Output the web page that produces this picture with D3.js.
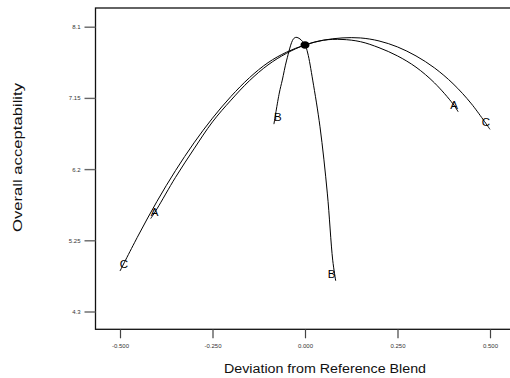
<!DOCTYPE html>
<html>
<head>
<meta charset="utf-8">
<script src="https://cdn.jsdelivr.net/npm/d3@7"></script>
<style>
  html, body { margin: 0; padding: 0; background: #fff; }
  svg { display: block; }
</style>
</head>
<body>
<div id="chart"></div>
<script>
// Trace plot: overall acceptability vs deviation from the reference blend
const xTicks = [-0.5, -0.25, 0, 0.25, 0.5];
const xTickLabels = ["-0.500", "-0.250", "0.000", "0.250", "0.500"];
const yTicks = [4.3, 5.25, 6.2, 7.15, 8.1];
const yTickLabels = ["4.3", "5.25", "6.2", "7.15", "8.1"];

// Component A trace
const devA = [-0.417, -0.40, -0.35, -0.30, -0.25, -0.20, -0.15, -0.10, -0.05, 0, 0.05, 0.10, 0.15, 0.20, 0.25, 0.30, 0.35, 0.40, 0.414];
const accA = [5.54, 5.67, 6.09, 6.47, 6.83, 7.12, 7.38, 7.59, 7.745, 7.856, 7.92, 7.93, 7.90, 7.82, 7.71, 7.56, 7.35, 7.07, 6.965];

// Component B trace
const devB = [-0.084, -0.0695, -0.0614, -0.0495, -0.0316, -0.0243, -0.0135, 0, 0.0073, 0.0208, 0.0405, 0.0603, 0.0749, 0.083];
const accB = [6.80, 7.215, 7.388, 7.655, 7.935, 7.958, 7.936, 7.856, 7.749, 7.388, 6.765, 5.88, 4.985, 4.709];

// Component C trace
const devC = [-0.50, -0.45, -0.40, -0.35, -0.30, -0.25, -0.20, -0.15, -0.10, -0.05, 0, 0.05, 0.10, 0.15, 0.20, 0.25, 0.30, 0.35, 0.40, 0.45, 0.50];
const accC = [4.84, 5.32, 5.77, 6.18, 6.55, 6.88, 7.17, 7.42, 7.62, 7.76, 7.856, 7.92, 7.95, 7.95, 7.91, 7.83, 7.71, 7.55, 7.34, 7.07, 6.73];

// Reference blend point
const refDev = [0];
const refAcc = [7.856];

const traces = [
  { name: "A", dev: devA, acc: accA },
  { name: "B", dev: devB, acc: accB },
  { name: "C", dev: devC, acc: accC }
];

const W = 510, H = 378;
const frame = { left: 95.5, top: 8, right: 514.5, bottom: 329.3 };

const svg = d3.select("#chart").append("svg")
  .attr("width", W).attr("height", H);

const x = d3.scaleLinear().domain([-0.5, 0.5]).range([120, 490]);
const y = d3.scaleLinear().domain([4.3, 8.1]).range([311.5, 26.7]);

// Plot frame
svg.append("rect")
  .attr("x", frame.left).attr("y", frame.top)
  .attr("width", frame.right - frame.left)
  .attr("height", frame.bottom - frame.top)
  .attr("fill", "none").attr("stroke", "#111").attr("stroke-width", 1.3);

// Axes
const xAxis = d3.axisBottom(x)
  .tickValues(xTicks)
  .tickFormat((d, i) => xTickLabels[i])
  .tickSize(9).tickSizeOuter(0).tickPadding(5);
const gx = svg.append("g").attr("transform", `translate(0,${frame.bottom})`).call(xAxis);
gx.select(".domain").remove();
gx.selectAll(".tick line").attr("stroke", "#444").attr("stroke-width", 1.2);
gx.selectAll(".tick text").attr("font-family", "Arial, 'Liberation Sans', sans-serif")
  .attr("font-size", 6).attr("fill", "#333").attr("dy", "0.71em");

const yAxis = d3.axisLeft(y)
  .tickValues(yTicks)
  .tickFormat((d, i) => yTickLabels[i])
  .tickSize(11).tickSizeOuter(0).tickPadding(4);
const gy = svg.append("g").attr("transform", `translate(${frame.left},0)`).call(yAxis);
gy.select(".domain").remove();
gy.selectAll(".tick line").attr("stroke", "#666").attr("stroke-width", 1.4);
gy.selectAll(".tick text").attr("font-family", "Arial, 'Liberation Sans', sans-serif")
  .attr("font-size", 6).attr("fill", "#333");

// Axis titles
svg.append("text")
  .attr("x", 325).attr("y", 373)
  .attr("text-anchor", "middle")
  .attr("font-family", "Arial, 'Liberation Sans', sans-serif")
  .attr("font-size", 12)
  .attr("textLength", 202).attr("lengthAdjust", "spacingAndGlyphs")
  .attr("fill", "#111")
  .text("Deviation from Reference Blend");

svg.append("text")
  .attr("transform", "translate(22,157.5) rotate(-90)")
  .attr("text-anchor", "middle")
  .attr("font-family", "Arial, 'Liberation Sans', sans-serif")
  .attr("font-size", 12)
  .attr("textLength", 149).attr("lengthAdjust", "spacingAndGlyphs")
  .attr("fill", "#111")
  .text("Overall  acceptability");

// Trace curves
const line = d3.line()
  .x(d => x(d[0])).y(d => y(d[1]))
  .curve(d3.curveCatmullRom.alpha(0.5));

const plot = svg.append("g");
traces.forEach(t => {
  const pts = t.dev.map((d, i) => [d, t.acc[i]]);
  plot.append("path")
    .datum(pts)
    .attr("d", line)
    .attr("fill", "none")
    .attr("stroke", "#000")
    .attr("stroke-width", 1);

  // Letter at both ends of the trace, nudged toward the inside
  const first = pts[0], last = pts[pts.length - 1];
  [[first, 4, -7], [last, -4, -7]].forEach(([p, dx, dy]) => {
    plot.append("text")
      .attr("x", x(p[0]) + dx).attr("y", y(p[1]) + dy)
      .attr("text-anchor", "middle")
      .attr("dominant-baseline", "central")
      .attr("font-family", "Arial, 'Liberation Sans', sans-serif")
      .attr("font-size", 11.5)
      .attr("fill", "#000")
      .text(t.name);
  });
});

// Reference blend marker
plot.selectAll("ellipse.ref")
  .data(refDev.map((d, i) => [d, refAcc[i]]))
  .enter().append("ellipse")
  .attr("class", "ref")
  .attr("cx", d => x(d[0])).attr("cy", d => y(d[1]))
  .attr("rx", 4.5).attr("ry", 3.8)
  .attr("fill", "#000");
</script>
</body>
</html>
